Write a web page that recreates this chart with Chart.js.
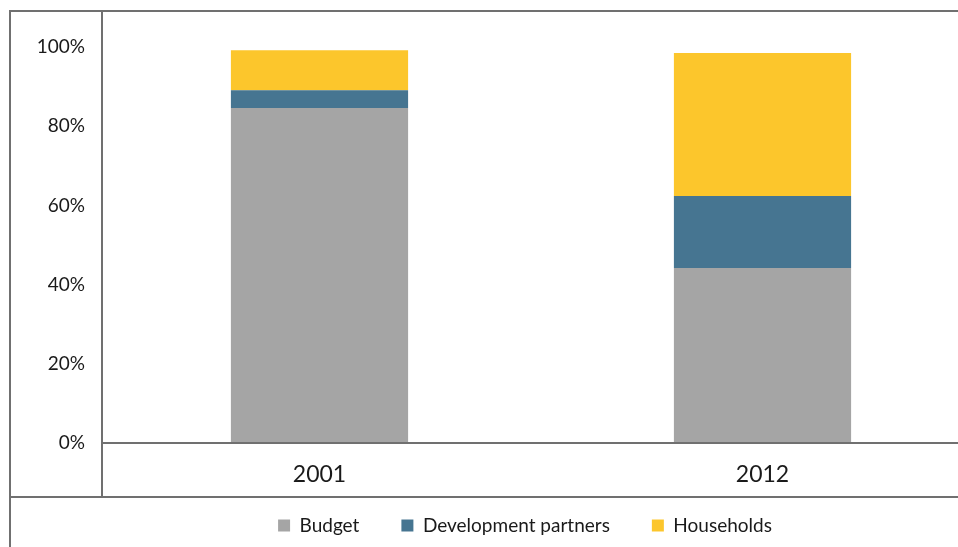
<!DOCTYPE html>
<html>
<head>
<meta charset="utf-8">
<title>Health financing sources</title>
<script src="https://cdn.jsdelivr.net/npm/chart.js@4/dist/chart.umd.min.js"></script>
<style>
  html, body { margin: 0; padding: 0; background: #fff; overflow: hidden; }
  #wrap { width: 958px; height: 547px; overflow: hidden; }
</style>
</head>
<body>
<div id="wrap"><canvas id="shares" width="1050" height="547"></canvas></div>
<script>
const years = ['2001', '2012'];
const budget = [84.6, 44.2];
const partners = [4.5, 18.2];
const households = [10.1, 36.1];
const yTicks = [0, 20, 40, 60, 80, 100];

const lineColor = '#707070';
const textColor = '#1a1a1a';

// frame lines around the plot, the label row and the legend row
const framePlugin = {
  id: 'frame',
  afterDraw(chart) {
    const ctx = chart.ctx;
    const a = chart.chartArea;
    const W = chart.width, H = chart.height;
    ctx.save();
    ctx.strokeStyle = lineColor;
    ctx.lineWidth = 2;
    ctx.beginPath();
    ctx.moveTo(9, 11); ctx.lineTo(W, 11);              // top edge
    ctx.moveTo(10, 10); ctx.lineTo(10, H);              // outer left edge
    ctx.moveTo(102, 10); ctx.lineTo(102, 497);          // axis column divider
    ctx.moveTo(101, a.bottom); ctx.lineTo(W, a.bottom); // zero line
    ctx.moveTo(9, 497); ctx.lineTo(W, 497);             // above legend row
    ctx.stroke();
    ctx.restore();
  }
};

// sit the legend inside the bottom row, a little right of the plot centre
const legendRow = {
  id: 'legendRow',
  afterLayout(chart) {
    const lg = chart.legend;
    lg.left += 19; lg.right += 19;
    lg.top -= 15; lg.bottom -= 15;
  }
};

new Chart(document.getElementById('shares'), {
  type: 'bar',
  data: {
    labels: years,
    datasets: [
      { label: 'Budget', data: budget, backgroundColor: '#a5a5a5' },
      { label: 'Development partners', data: partners, backgroundColor: '#467591' },
      { label: 'Households', data: households, backgroundColor: '#fcc62c' }
    ]
  },
  options: {
    responsive: false,
    devicePixelRatio: 1,
    animation: false,
    layout: { padding: { top: 47, left: 28, right: 66, bottom: -13 } },
    datasets: { bar: { categoryPercentage: 1, barPercentage: 0.4, borderWidth: 0 } },
    plugins: {
      tooltip: { enabled: false },
      legend: {
        position: 'bottom',
        labels: {
          boxWidth: 12,
          boxHeight: 12,
          padding: 42,
          color: textColor,
          font: { family: 'Lato', size: 19 }
        }
      }
    },
    scales: {
      x: {
        stacked: true,
        grid: { display: false },
        border: { display: false },
        ticks: { color: textColor, padding: 10, font: { family: 'Lato', size: 23 } },
        afterFit(s) { s.height = 46; }
      },
      y: {
        stacked: true,
        min: 0,
        max: 100,
        grid: { display: false },
        border: { display: false },
        afterBuildTicks(s) { s.ticks = yTicks.map(v => ({ value: v })); },
        ticks: {
          color: textColor,
          padding: 5,
          font: { family: 'Lato', size: 19 },
          callback: v => v + '%'
        },
        afterFit(s) { s.width = 70; }
      }
    }
  },
  plugins: [framePlugin, legendRow]
});
</script>
</body>
</html>
